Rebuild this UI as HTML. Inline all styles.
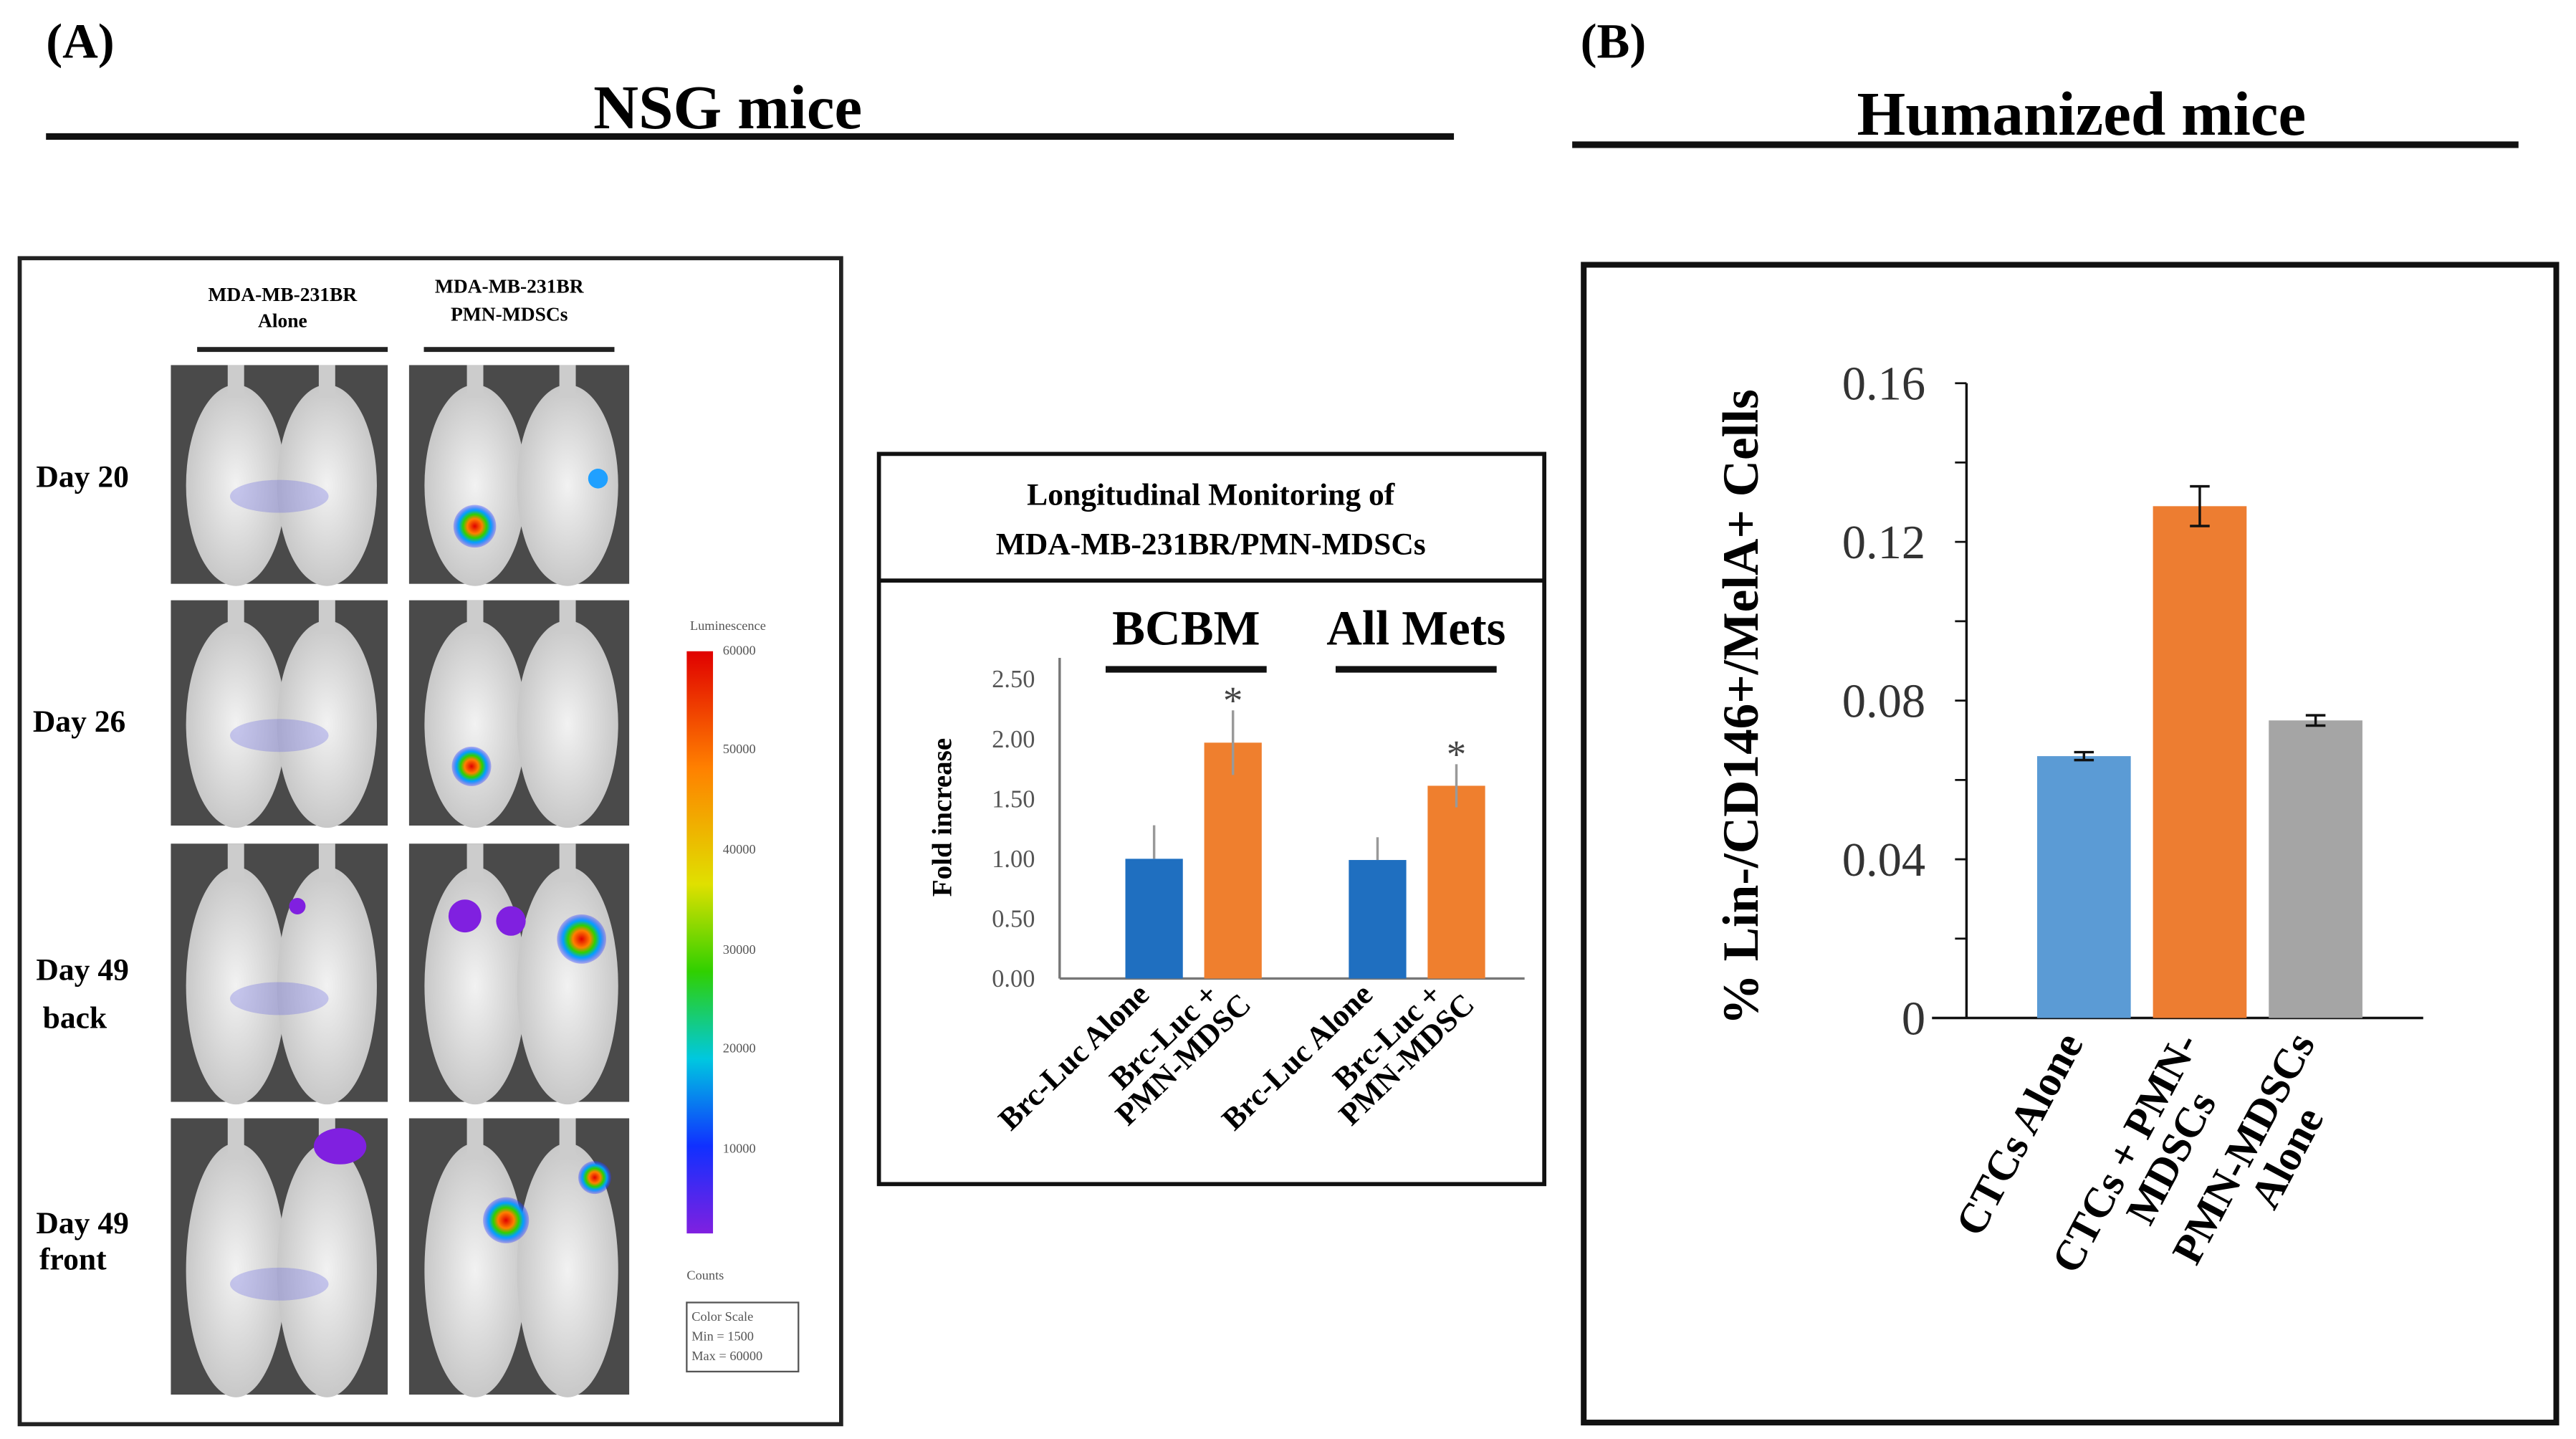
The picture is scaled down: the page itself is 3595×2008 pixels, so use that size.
<!DOCTYPE html>
<html><head><meta charset="utf-8"><style>
html,body{margin:0;padding:0;background:#fff;}
svg{display:block;}
text{font-family:"Liberation Serif",serif;}
</style></head><body>
<svg id="fig" width="3595" height="2008" viewBox="0 0 1568 875" preserveAspectRatio="none" xmlns="http://www.w3.org/2000/svg">
<defs>
<linearGradient id="cbar" x1="0" y1="0" x2="0" y2="1">
<stop offset="0" stop-color="#e00000"/><stop offset="0.2" stop-color="#ff8000"/><stop offset="0.4" stop-color="#e0e000"/><stop offset="0.55" stop-color="#30d000"/><stop offset="0.7" stop-color="#00c8e0"/><stop offset="0.85" stop-color="#1030ff"/><stop offset="1" stop-color="#8020e0"/>
</linearGradient>
<radialGradient id="hot"><stop offset="0" stop-color="#e00000"/><stop offset="0.35" stop-color="#ff8000"/><stop offset="0.55" stop-color="#30d000"/><stop offset="0.75" stop-color="#00a0ff"/><stop offset="1" stop-color="#3030ff" stop-opacity="0.3"/></radialGradient>
<radialGradient id="mouse"><stop offset="0" stop-color="#f2f2f2"/><stop offset="1" stop-color="#c8c8c8"/></radialGradient>
</defs>
<rect width="1568" height="875" fill="#fff"/>
<text x="28" y="35" font-size="30" font-weight="bold">(A)</text>
<text x="443" y="78" font-size="38" font-weight="bold" text-anchor="middle">NSG mice</text>
<rect x="28" y="81" width="857" height="4" fill="#111"/>
<text x="962" y="35" font-size="30" font-weight="bold">(B)</text>
<text x="1267" y="82" font-size="38" font-weight="bold" text-anchor="middle">Humanized mice</text>
<rect x="957" y="86" width="576" height="4" fill="#111"/>

<g>
<rect x="12" y="157" width="500" height="709" fill="#fff" stroke="#222" stroke-width="2.5"/>
<text x="172" y="183" font-size="12" font-weight="bold" text-anchor="middle">MDA-MB-231BR</text>
<text x="172" y="199" font-size="12" font-weight="bold" text-anchor="middle">Alone</text>
<text x="310" y="178" font-size="12" font-weight="bold" text-anchor="middle">MDA-MB-231BR</text>
<text x="310" y="195" font-size="12" font-weight="bold" text-anchor="middle">PMN-MDSCs</text>
<rect x="120" y="211" width="116" height="3" fill="#222"/>
<rect x="258" y="211" width="116" height="3" fill="#222"/>
<text x="22" y="296" font-size="19" font-weight="bold">Day 20</text>
<text x="20" y="445" font-size="19" font-weight="bold">Day 26</text>
<text x="22" y="596" font-size="19" font-weight="bold">Day 49</text>
<text x="26" y="625" font-size="19" font-weight="bold">back</text>
<text x="22" y="750" font-size="19" font-weight="bold">Day 49</text>
<text x="24" y="772" font-size="19" font-weight="bold">front</text>
<rect x="418" y="396" width="16" height="354" fill="url(#cbar)"/>
<text x="420" y="383" font-size="8" fill="#555">Luminescence</text>
<text x="440" y="398" font-size="8" fill="#555">60000</text>
<text x="440" y="458" font-size="8" fill="#555">50000</text>
<text x="440" y="519" font-size="8" fill="#555">40000</text>
<text x="440" y="580" font-size="8" fill="#555">30000</text>
<text x="440" y="640" font-size="8" fill="#555">20000</text>
<text x="440" y="701" font-size="8" fill="#555">10000</text>
<text x="418" y="778" font-size="8" fill="#555">Counts</text>
<rect x="418" y="792" width="68" height="42" fill="#fff" stroke="#555" stroke-width="1"/>
<text x="421" y="803" font-size="8" fill="#555">Color Scale</text>
<text x="421" y="815" font-size="8" fill="#555">Min = 1500</text>
<text x="421" y="827" font-size="8" fill="#555">Max = 60000</text>
<g id="mice"></g>
</g>

<g>
<rect x="535" y="276" width="405" height="444" fill="#fff" stroke="#111" stroke-width="2.5"/>
<line x1="535" y1="353" x2="940" y2="353" stroke="#111" stroke-width="2.5"/>
<text x="737" y="307" font-size="19" font-weight="bold" text-anchor="middle">Longitudinal Monitoring of</text>
<text x="737" y="337" font-size="19" font-weight="bold" text-anchor="middle">MDA-MB-231BR/PMN-MDSCs</text>
<g id="midChart"></g>
</g>

<g>
<rect x="964" y="161" width="592" height="704" fill="#fff" stroke="#111" stroke-width="3.5"/>
<g id="rightChart"></g>
</g>
</svg>
<script>
var NS='http://www.w3.org/2000/svg';
function mk(parent,tag,attrs,txt){var e=document.createElementNS(NS,tag);for(var k in attrs)e.setAttribute(k,attrs[k]);if(txt!==undefined)e.textContent=txt;parent.appendChild(e);return e;}

var midGroups=['BCBM','All Mets'];
var midAloneVals=[1.00,0.99];
var midAloneErr=[0.28,0.19];
var midComboVals=[1.97,1.61];
var midComboErr=[0.27,0.18];
var midTicks=[0,0.5,1.0,1.5,2.0,2.5];
var midTickLabels=['0.00','0.50','1.00','1.50','2.00','2.50'];

var rCategories=['CTCs Alone','CTCs + PMN-MDSCs','PMN-MDSCs Alone'];
var rValues=[0.066,0.129,0.075];
var rErrors=[0.001,0.005,0.0013];
var rTicks=[0,0.04,0.08,0.12,0.16];
var rTickLabels=['0','0.04','0.08','0.12','0.16'];
var rMinorTicks=[0.02,0.06,0.10,0.14];

(function(){
var g=document.getElementById('mice');
var rows=[[222,133],[365,137],[513,157],[680,168]];
var cols=[[104,132],[249,134]];
rows.forEach(function(r,ri){cols.forEach(function(c,ci){
 var p=mk(g,'rect',{x:c[0],y:r[0],width:c[1],height:r[1],fill:'#4a4a4a'});
 
 
 for(var m=0;m<2;m++){
  var cx=c[0]+c[1]*(m?0.72:0.3), cy=r[0]+r[1]*0.55;
  mk(g,'ellipse',{cx:cx,cy:cy,rx:c[1]*0.23,ry:r[1]*0.46,fill:'url(#mouse)'});
  mk(g,'rect',{x:cx-5,y:r[0],width:10,height:r[1]*0.15,fill:'#ccc'});
 }
 if(ci===0){mk(g,'ellipse',{cx:c[0]+c[1]*0.5,cy:r[0]+r[1]*0.6,rx:30,ry:10,fill:'#6060e0',opacity:0.3});}
});});
mk(g,'circle',{cx:289,cy:320,r:13,fill:'url(#hot)'});
mk(g,'circle',{cx:287,cy:466,r:12,fill:'url(#hot)'});
mk(g,'circle',{cx:364,cy:291,r:6,fill:'#20a0ff'});
mk(g,'circle',{cx:354,cy:571,r:15,fill:'url(#hot)'});
mk(g,'circle',{cx:283,cy:557,r:10,fill:'#8020e0'});
mk(g,'circle',{cx:311,cy:560,r:9,fill:'#8020e0'});
mk(g,'circle',{cx:308,cy:742,r:14,fill:'url(#hot)'});
mk(g,'circle',{cx:362,cy:716,r:10,fill:'url(#hot)'});
mk(g,'ellipse',{cx:207,cy:697,rx:16,ry:11,fill:'#8020e0'});
mk(g,'circle',{cx:181,cy:551,r:5,fill:'#8020e0'});
})();

(function(){
var g=document.getElementById('midChart');
var x0=645,x1=928,yb=595,yt=413;
function y(v){return yb-(v/2.5)*(yb-yt);}
var yl=mk(g,'text',{x:0,y:0,'font-size':17,'font-weight':'bold','text-anchor':'middle',transform:'translate(579,497) rotate(-90)'},'Fold increase');


var ax=mk(g,'line',{x1:x0,y1:400,x2:x0,y2:yb,stroke:'#777','stroke-width':1.5});


var xa=mk(g,'line',{x1:x0,y1:yb,x2:x1,y2:yb,stroke:'#777','stroke-width':1.5});


midTicks.forEach(function(t,i){
 var tl=mk(g,'text',{x:630,y:y(t)+5,'font-size':15,fill:'#555','text-anchor':'end'},midTickLabels[i]);
 
 
});
var groupX=[702,838];
midGroups.forEach(function(name,i){
 var gx=groupX[i];
 var h=mk(g,'text',{x:gx+(i?24:20),y:392,'font-size':30,'font-weight':'bold','text-anchor':'middle'},name);
 
 
 var ln=mk(g,'rect',{x:i?813:673,y:405,width:98,height:4,fill:'#111'});
 
 
 var bw=35, bxA=gx-17, bxC=gx+31;
 var b1=mk(g,'rect',{x:bxA,y:y(midAloneVals[i]),width:bw,height:yb-y(midAloneVals[i]),fill:'#1f6fc0'});
 
 
 var b2=mk(g,'rect',{x:bxC,y:y(midComboVals[i]),width:bw,height:yb-y(midComboVals[i]),fill:'#ef7f2e'});
 
 
 var cA=bxA+bw/2, cC=bxC+bw/2;
 var e1=mk(g,'line',{x1:cA,y1:y(midAloneVals[i]),x2:cA,y2:y(midAloneVals[i]+midAloneErr[i]),stroke:'#999','stroke-width':1.5});
 
 
 var e2=mk(g,'line',{x1:cC,y1:y(midComboVals[i]-midComboErr[i]),x2:cC,y2:y(midComboVals[i]+midComboErr[i]),stroke:'#999','stroke-width':1.5});
 
 
 var st=mk(g,'text',{x:cC,y:y(midComboVals[i]+midComboErr[i])+2,'font-size':24,fill:'#444','text-anchor':'middle'},'*');
 
 
 var l1=mk(g,'text',{x:0,y:0,'font-size':19,'font-weight':'bold','text-anchor':'end',transform:'translate('+(cA-2)+',606) rotate(-44)'},'Brc-Luc Alone');
 
 
 var l2=mk(g,'text',{x:0,y:0,'font-size':19,'font-weight':'bold','text-anchor':'end',transform:'translate('+(cC-8)+',606) rotate(-44)'},'Brc-Luc +');
 
 
 var l3=mk(g,'text',{x:0,y:0,'font-size':19,'font-weight':'bold','text-anchor':'end',transform:'translate('+(cC+12)+',612) rotate(-44)'},'PMN-MDSC');
 
 
});
})();

(function(){
var g=document.getElementById('rightChart');
var x0=1197,x1=1475,yb=619,yt=233;
function y(v){return yb-(v/0.16)*(yb-yt);}
var yl=mk(g,'text',{x:0,y:0,'font-size':31,'font-weight':'bold','text-anchor':'middle',transform:'translate(1070,430) rotate(-90)'},'% Lin-/CD146+/MelA+ Cells');


var ax=mk(g,'line',{x1:x0,y1:yt,x2:x0,y2:yb,stroke:'#111','stroke-width':1.5});


var xa=mk(g,'line',{x1:1176,y1:yb,x2:x1,y2:yb,stroke:'#111','stroke-width':1.5});


rTicks.forEach(function(t,i){
 mk(g,'line',{x1:x0-7,y1:y(t),x2:x0,y2:y(t),stroke:'#111','stroke-width':1.2});
 var tl=mk(g,'text',{x:1172,y:y(t)+10,'font-size':29,fill:'#333','text-anchor':'end'},rTickLabels[i]);
 
 
});
rMinorTicks.forEach(function(t){
 mk(g,'line',{x1:x0-7,y1:y(t),x2:x0,y2:y(t),stroke:'#111','stroke-width':1.2});
});
var colors=['#5b9bd5','#ed7d31','#a5a5a5'];
var lines=[['CTCs Alone'],['CTCs + PMN-','MDSCs'],['PMN-MDSCs','Alone']];
var bw=57, step=70.5, first=1240;
rValues.forEach(function(v,i){
 var bx=first+i*step;
 var b=mk(g,'rect',{x:bx,y:y(v),width:bw,height:yb-y(v),fill:colors[i]});
 
 
 var cx=bx+bw/2, e=rErrors[i];
 var eb=mk(g,'path',{d:'M'+(cx-6)+','+y(v+e)+'H'+(cx+6)+'M'+cx+','+y(v+e)+'V'+y(v-e)+'M'+(cx-6)+','+y(v-e)+'H'+(cx+6),stroke:'#111','stroke-width':1.5,fill:'none'});
 
 
 var ls=lines[i];
 var t1=mk(g,'text',{x:0,y:0,'font-size':26,'font-weight':'bold','text-anchor':'end',transform:'translate('+(cx)+',634) rotate(-62)'},ls[0]);
 
 
 if(ls[1]){
  var t2=mk(g,'text',{x:-70,y:26,'font-size':26,'font-weight':'bold','text-anchor':'middle',transform:'translate('+(cx)+',634) rotate(-62)'},ls[1]);
  
  
 }
});
})();
</script>
</body></html>
